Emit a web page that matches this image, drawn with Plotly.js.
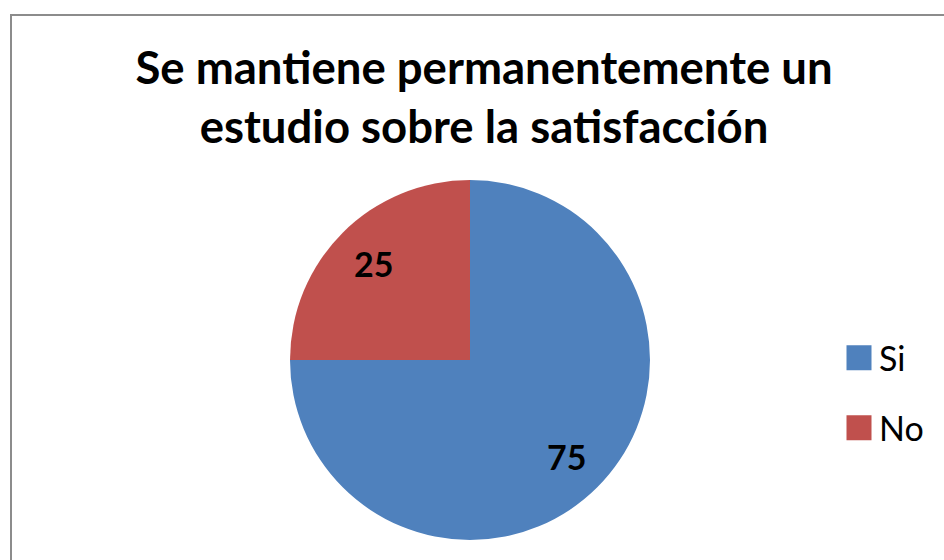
<!DOCTYPE html>
<html>
<head>
<meta charset="utf-8">
<script src="https://cdn.plot.ly/plotly-3.0.1.min.js"></script>
<style>
html,body{margin:0;padding:0;background:#fff;}
#wrap{position:relative;width:944px;height:560px;overflow:hidden;}
#chart{position:absolute;left:0;top:0;width:944px;height:560px;}
#frame{position:absolute;left:10px;top:14px;width:960px;height:600px;border:2px solid #8c8c8c;box-sizing:border-box;pointer-events:none;}
</style>
</head>
<body>
<div id="wrap"><div id="chart"></div><div id="frame"></div></div>
<script>
const categories = ["Si", "No"];
const values = [75, 25];
const colors = ["#4F81BD", "#C0504D"];
const titleText = "Se mantiene permanentemente un<br>estudio sobre la satisfacción";

const FONT = "Lato, 'Open Sans', sans-serif";
const W = 944, H = 560;
const cx = 470, cy = 360, R = 180;

const trace = {
  type: "pie",
  labels: categories,
  values: values,
  sort: false,
  direction: "clockwise",
  rotation: 0,
  marker: {colors: colors, line: {color: "#ffffff", width: 0}},
  textinfo: "none",
  hoverinfo: "label+value",
  domain: {x: [(cx - R) / W, (cx + R) / W], y: [1 - (cy + R) / H, 1 - (cy - R) / H]}
};

// data labels placed along each slice's bisector, derived from the values
const total = values.reduce((a, b) => a + b, 0);
let cum = 0;
const annotations = values.map(function (v) {
  const mid = (cum + v / 2) / total * 2 * Math.PI;
  cum += v;
  const f = 0.76;
  return {
    xref: "paper", yref: "paper",
    x: (cx + Math.sin(mid) * R * f) / W,
    y: 1 - (cy - Math.cos(mid) * R * f) / H,
    text: String(v), showarrow: false,
    xanchor: "center", yanchor: "middle",
    font: {family: FONT, size: 34, color: "#000000", weight: "bold"}
  };
});

const layout = {
  width: W, height: H,
  margin: {l: 0, r: 0, t: 0, b: 0},
  paper_bgcolor: "#ffffff",
  title: {
    text: titleText,
    font: {family: FONT, size: 45.5, color: "#000000", weight: "bold"},
    x: 484 / W, xanchor: "center", y: 1 - 84 / H, yanchor: "middle"
  },
  annotations: annotations,
  showlegend: true,
  legend: {
    x: 839 / W, xanchor: "left", y: 1 - 393 / H, yanchor: "middle",
    font: {family: FONT, size: 34, color: "#000000"},
    itemwidth: 30
  }
};

Plotly.newPlot("chart", [trace], layout, {displayModeBar: false, staticPlot: true}).then(function () {
  document.querySelectorAll('#chart .legendpoints path').forEach(function (p) {
    p.setAttribute('d', 'M-12.5,-12.5H12.5V12.5H-12.5Z');
  });
  const items = document.querySelectorAll('#chart .legend .traces');
  if (items.length === 2) {
    const m0 = /translate\(([-\d.]+),\s*([-\d.]+)\)/.exec(items[0].getAttribute('transform') || '');
    const m1 = /translate\(([-\d.]+),\s*([-\d.]+)\)/.exec(items[1].getAttribute('transform') || '');
    if (m0 && m1) {
      const y0 = parseFloat(m0[2]), y1 = parseFloat(m1[2]);
      const mid = (y0 + y1) / 2;
      items[0].setAttribute('transform', 'translate(' + m0[1] + ',' + (mid - 35) + ')');
      items[1].setAttribute('transform', 'translate(' + m1[1] + ',' + (mid + 35) + ')');
    }
  }
});
</script>
</body>
</html>
